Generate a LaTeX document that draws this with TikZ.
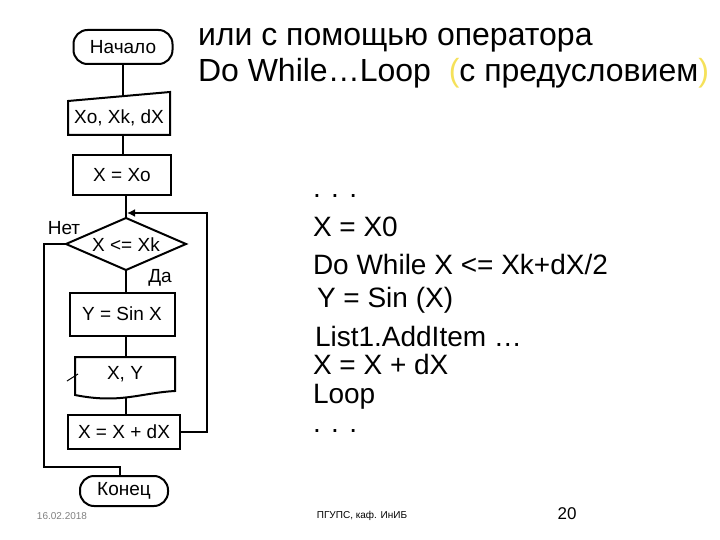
\documentclass[tikz,border=0pt]{standalone}
\usepackage{fontspec}
\setmainfont{Liberation Sans}
\usetikzlibrary{arrows.meta}
\definecolor{paren}{RGB}{245,225,90}
\begin{document}
\begin{tikzpicture}[x=1pt,y=-1pt,
  line width=2pt,
  fc/.style={font=\fontsize{19}{19}\selectfont},
  box/.style={draw,line width=2pt,minimum height=40pt,inner sep=0pt,fc},
  term/.style={draw,rounded corners=14pt,line width=2pt,minimum height=34pt,inner sep=0pt,fc},
  lbl/.style={fc,inner sep=0pt},
  code/.style={font=\fontsize{28}{28}\selectfont,inner sep=0pt,anchor=west}]
\useasboundingbox (0,0) rectangle (720,540);
\node[term,minimum width=99pt] (start) at (123,47) {Начало};
\draw (68,101) -- (170,92) -- (170,135) -- (68,135) -- cycle;
\node[lbl] (inp) at (119,118) {Xo, Xk, dX};
\node[box,minimum width=98pt] (init) at (122,175) {X = Xo};
\draw (126,218) -- (186,244) -- (126,270) -- (66,244) -- cycle;
\node[lbl] (cond) at (126,245) {X <= Xk};
\coordinate (dtop) at (126,218);
\coordinate (dbot) at (126,270);
\coordinate (dleft) at (66,244);
\node[box,minimum width=105pt,minimum height=43pt] (calc) at (122,314) {Y = Sin X};
\draw (75,357) -- (175,357) -- (175,391) .. controls (140,393) and (120,404) .. (75,395) -- cycle;
\draw[line width=1pt] (67,381) -- (78,374);
\node[lbl] (out) at (125,374) {X, Y};
\node[box,minimum width=112pt,minimum height=34pt] (inc) at (124,432) {X = X + dX};
\node[term,minimum width=88pt,minimum height=30pt] (end) at (124,491) {Конец};
\draw (123,64) -- (123,96);
\draw (123,135) -- (123,155);
\draw (126,195) -- (dtop);
\draw (dbot) -- (126,292.5);
\draw (126,335.5) -- (126,357);
\draw (126,398) -- (126,415);
\draw[-{Latex[length=8pt,width=8pt]}] (inc.east) -- (207,432) -- (207,213) -- (127,213);
\draw (dleft) -- (44,244) -- (44,467) -- (120,467) -- (120,476);
\node[lbl] (net) at (64,228) {Нет};
\node[lbl] (da) at (160,278) {Да};
\node[font=\fontsize{32}{32}\selectfont,anchor=west,inner sep=0pt] (t1) at (197,40) {или с помощью оператора};
\node[font=\fontsize{32}{32}\selectfont,anchor=west,inner sep=0pt] (t2) at (197,73) {Do While…Loop \ \textcolor{paren}{(}с предусловием\textcolor{paren}{)}};
\node[code] (c0) at (312,196) {. . .};
\node[code] (c1) at (312,227) {X = X0};
\node[code] (c2) at (312,264) {Do While X <= Xk+dX/2};
\node[code] (c3) at (316,300) {Y = Sin (X)};
\node[code] (c4) at (314,336) {List1.AddItem …};
\node[code] (c5) at (312,364) {X = X + dX};
\node[code] (c6) at (312,397) {Loop};
\node[code] (c7) at (312,431) {. . .};
\node[font=\fontsize{10}{10}\selectfont,text=gray,inner sep=0pt] (date) at (62,516) {16.02.2018};
\node[font=\fontsize{10}{10}\selectfont,inner sep=0pt] (foot) at (362,516) {ПГУПС, каф. ИнИБ};
\node[font=\fontsize{17}{17}\selectfont,inner sep=0pt] (pg) at (567,514) {20};
\end{tikzpicture}
\end{document}
